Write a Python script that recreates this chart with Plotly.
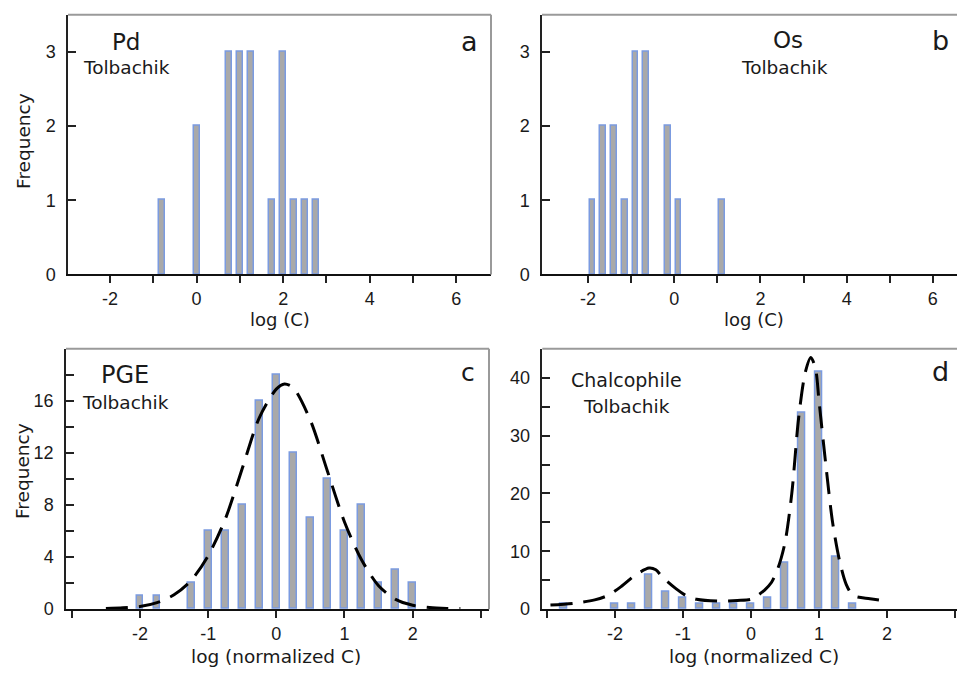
import plotly.graph_objects as go

W, H = 957, 677
FONT = "DejaVu Sans, Verdana, sans-serif"
TICKFONT = "Liberation Sans, Arial, sans-serif"
TXT = "#1a1a1a"
BAR_FILL = "#a9a9a9"
BAR_EDGE = "#7b9be0"

# ---------------- data ----------------
# (a) Pd
pd_bins = [-0.8, 0.0, 0.75, 1.0, 1.25, 1.75, 2.0, 2.25, 2.5, 2.75]
pd_freq = [1, 2, 3, 3, 3, 1, 3, 1, 1, 1]
# (b) Os
os_bins = [-1.9, -1.65, -1.4, -1.15, -0.9, -0.65, -0.15, 0.1, 1.1]
os_freq = [1, 2, 2, 1, 3, 3, 2, 1, 1]
# (c) PGE
pge_bins = [-2.0, -1.75, -1.25, -1.0, -0.75, -0.5, -0.25, 0.0, 0.25, 0.5,
            0.75, 1.0, 1.25, 1.5, 1.75, 2.0]
pge_freq = [1, 1, 2, 6, 6, 8, 16, 18, 12, 7, 10, 6, 8, 2, 3, 2]
pge_fit_x = [-2.5, -2.25, -2.0, -1.75, -1.5, -1.25, -1.0, -0.75, -0.5, -0.25,
             0.0, 0.12, 0.25, 0.5, 0.75, 1.0, 1.25, 1.5, 1.75, 2.0, 2.25, 2.5, 2.7]
pge_fit_y = [0.05, 0.1, 0.2, 0.5, 1.1, 2.2, 4.1, 6.9, 10.8, 14.7,
             16.9, 17.3, 17.0, 14.5, 10.6, 6.7, 3.8, 1.8, 0.75, 0.3, 0.12, 0.06, 0.05]
# (d) Chalcophile
chal_bins = [-2.75, -2.0, -1.75, -1.5, -1.25, -1.0, -0.75, -0.5, -0.25, 0.0,
             0.25, 0.5, 0.75, 1.0, 1.25, 1.5]
chal_freq = [1, 1, 1, 6, 3, 2, 1, 1, 1, 1, 2, 8, 34, 41, 9, 1]
chal_fit_x = [-2.95, -2.6, -2.3, -2.1, -1.9, -1.7, -1.5, -1.4, -1.3, -1.1, -0.95,
              -0.8, -0.5, -0.2, 0.0, 0.1, 0.2, 0.3, 0.4, 0.5, 0.6, 0.7, 0.8, 0.88,
              0.95, 1.0, 1.1, 1.2, 1.3, 1.4, 1.5, 1.75, 2.0]
chal_fit_y = [0.7, 1.0, 1.6, 2.4, 4.0, 5.9, 7.1, 6.8, 5.5, 3.5, 2.3,
              1.7, 1.4, 1.5, 1.7, 2.4, 3.3, 4.6, 7.2, 11.5, 20.0, 33.0, 41.0, 43.5,
              41.5, 36.0, 25.0, 15.0, 8.5, 4.3, 2.4, 1.8, 1.4]

# ---------------- figure ----------------
fig = go.Figure()


def bars(x, y, width, xa, ya):
    return go.Bar(x=x, y=y, width=width, xaxis=xa, yaxis=ya,
                  marker=dict(color=BAR_FILL, line=dict(color=BAR_EDGE, width=1.5)),
                  showlegend=False, hoverinfo="x+y")


def fit(x, y, xa, ya):
    return go.Scatter(x=x, y=y, mode="lines", xaxis=xa, yaxis=ya,
                      line=dict(color="black", width=3, dash="22px,11px", shape="spline",
                                smoothing=0.8),
                      showlegend=False, hoverinfo="skip")


fig.add_trace(bars(pd_bins, pd_freq, 0.14, "x", "y"))
fig.add_trace(bars(os_bins, os_freq, 0.13, "x2", "y2"))
fig.add_trace(bars(pge_bins, pge_freq, 0.1, "x3", "y3"))
fig.add_trace(fit(pge_fit_x, pge_fit_y, "x3", "y3"))
fig.add_trace(bars(chal_bins, chal_freq, 0.1, "x4", "y4"))
fig.add_trace(fit(chal_fit_x, chal_fit_y, "x4", "y4"))


def px(x):
    return x / W


def py(y):
    return 1 - y / H


dom_top = [py(278.5), py(15)]
dom_bot = [py(618.3), py(354)]

tickfont = dict(family=TICKFONT, size=18, color=TXT)


def xaxis(domain, rng, vals, texts, anchor):
    return dict(domain=domain, range=rng, anchor=anchor, tickmode="array",
                tickvals=vals, ticktext=texts, ticks="outside", ticklen=7,
                tickwidth=1.5, tickcolor="#222", showline=True, linecolor="#111",
                linewidth=2, showgrid=False, zeroline=False, tickfont=tickfont,
                fixedrange=True)


def yaxis(domain, rng, vals, texts, anchor):
    return dict(domain=domain, range=rng, anchor=anchor, tickmode="array",
                tickvals=vals, ticktext=texts, ticks="inside", ticklen=8,
                tickwidth=1.5, tickcolor="#222", showline=True, linecolor="#222",
                linewidth=1.5, showgrid=False, zeroline=False, tickfont=tickfont,
                ticklabelstandoff=7, fixedrange=True)


xa_vals = [-2, -1, 0, 1, 2, 3, 4, 5, 6]
xa_text = ["-2", "", "0", "", "2", "", "4", "", "6"]
xc_vals = [-3, -2, -1, 0, 1, 2, 3]
xc_text = ["", "-2", "-1", "0", "1", "2", ""]
ya_vals = [0, 1, 2, 3]
ya_text = ["0", "1", "2", "3"]
yc_vals = [0, 2, 4, 6, 8, 10, 12, 14, 16, 18]
yc_text = ["0", "", "4", "", "8", "", "12", "", "16", ""]
yd_vals = [0, 5, 10, 15, 20, 25, 30, 35, 40]
yd_text = ["0", "", "10", "", "20", "", "30", "", "40"]

fig.update_layout(
    width=W, height=H, autosize=False,
    margin=dict(l=0, r=0, t=0, b=0),
    paper_bgcolor="white", plot_bgcolor="white",
    bargap=0, barmode="overlay",
    font=dict(family=FONT, color=TXT),
    xaxis=xaxis([px(68), px(491)], [-2.97, 6.8], xa_vals, xa_text, "y"),
    yaxis=yaxis(dom_top, [0, 3.5], ya_vals, ya_text, "x"),
    xaxis2=xaxis([px(542), 1.0], [-3.07, 6.56], xa_vals, xa_text, "y2"),
    yaxis2=yaxis(dom_top, [0, 3.5], ya_vals, ya_text, "x2"),
    xaxis3=xaxis([px(66), px(489)], [-3.085, 3.12], xc_vals, xc_text, "y3"),
    yaxis3=yaxis(dom_bot, [0, 20], yc_vals, yc_text, "x3"),
    xaxis4=xaxis([px(542.3), 1.0], [-3.07, 3.03], xc_vals, xc_text, "y4"),
    yaxis4=yaxis(dom_bot, [0, 45], yd_vals, yd_text, "x4"),
)

# frame borders (gray top and right)
GRAY = "#9a9a9a"
shapes = []
for (x0, x1, y0, y1, right) in [(68, 491, 15, 278.5, True), (542, 957, 15, 278.5, False),
                                (66, 489, 354, 618.3, True), (542.3, 957, 354, 618.3, False)]:
    shapes.append(dict(type="line", xref="paper", yref="paper", x0=px(x0), x1=px(x1),
                       y0=py(y0), y1=py(y0), line=dict(color=GRAY, width=2)))
    if right:
        shapes.append(dict(type="line", xref="paper", yref="paper", x0=px(x1), x1=px(x1),
                           y0=py(y0), y1=py(y1), line=dict(color=GRAY, width=2)))
fig.update_layout(shapes=shapes)


def ann(text, x, y, size, angle=0):
    return dict(text=text, x=px(x), y=py(y), xref="paper", yref="paper",
                showarrow=False, xanchor="center", yanchor="middle", textangle=angle,
                font=dict(family=FONT, size=size, color=TXT))


annotations = [
    ann("Pd", 126, 43, 23), ann("Tolbachik", 126, 69, 18.5), ann("a", 469, 42, 27),
    ann("Os", 788, 41, 23), ann("Tolbachik", 784, 69, 18.5), ann("b", 940, 41, 27),
    ann("PGE", 125, 381, 24), ann("Tolbachik", 125.5, 409, 18.5), ann("c", 468, 378, 25),
    ann("Chalcophile", 626, 386, 19), ann("Tolbachik", 626.5, 413, 18.5), ann("d", 940, 377, 27),
    ann("Frequency", 24, 143, 18.5, -90), ann("Frequency", 23, 478, 18.5, -90),
    ann("log (C)", 280, 324.5, 18), ann("log (C)", 754, 324.5, 18),
    ann("log (normalized C)", 276, 666, 18.5), ann("log (normalized C)", 754, 666, 18.5),
]
fig.update_layout(annotations=annotations)

fig.write_html("out.html")
